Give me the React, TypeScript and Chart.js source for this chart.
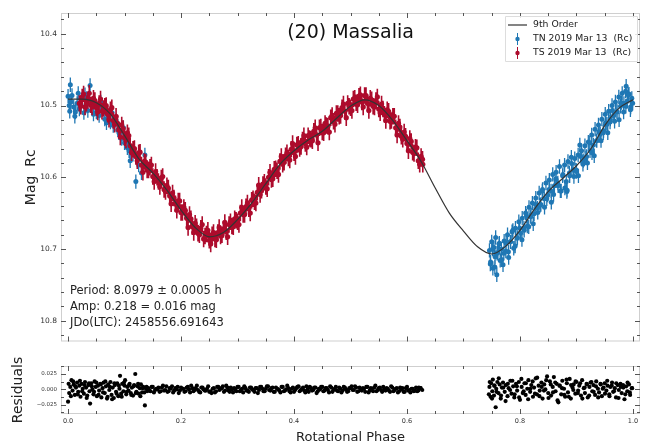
import React, { useEffect, useRef } from "react";
import { Chart, registerables } from "chart.js";
Chart.register(...registerables);

const FONT = "'DejaVu Sans', 'Liberation Sans', sans-serif";

// 9th order fit curve
const fitPhase = [0, 0.025, 0.05, 0.075, 0.1, 0.125, 0.15, 0.175, 0.2, 0.225, 0.25, 0.275, 0.3, 0.325, 0.35, 0.375, 0.4, 0.425, 0.45, 0.475, 0.5, 0.525, 0.55, 0.575, 0.6, 0.625, 0.65, 0.675, 0.7, 0.725, 0.75, 0.775, 0.8, 0.825, 0.85, 0.875, 0.9, 0.925, 0.95, 0.975, 1.0];
const fitMag = [10.491, 10.491, 10.496, 10.512, 10.542, 10.574, 10.594, 10.618, 10.646, 10.670, 10.683, 10.677, 10.659, 10.636, 10.609, 10.582, 10.563, 10.548, 10.536, 10.518, 10.501, 10.492, 10.500, 10.521, 10.549, 10.578, 10.615, 10.650, 10.675, 10.697, 10.707, 10.696, 10.674, 10.645, 10.620, 10.602, 10.584, 10.561, 10.528, 10.504, 10.492];

// TS 2019 Mar 13 (Rc)
const tsPhase = [0.020, 0.025, 0.030, 0.035, 0.040, 0.045, 0.050, 0.055, 0.060, 0.065, 0.070, 0.075, 0.080, 0.085, 0.090, 0.095, 0.100, 0.105, 0.110, 0.115, 0.120, 0.125, 0.130, 0.135, 0.140, 0.145, 0.150, 0.155, 0.160, 0.165, 0.170, 0.175, 0.180, 0.185, 0.190, 0.195, 0.200, 0.205, 0.210, 0.215, 0.220, 0.225, 0.230, 0.235, 0.240, 0.245, 0.250, 0.255, 0.260, 0.265, 0.270, 0.275, 0.280, 0.285, 0.290, 0.295, 0.300, 0.305, 0.310, 0.315, 0.320, 0.325, 0.330, 0.335, 0.340, 0.345, 0.350, 0.355, 0.360, 0.365, 0.370, 0.375, 0.380, 0.385, 0.390, 0.395, 0.400, 0.405, 0.410, 0.415, 0.420, 0.425, 0.430, 0.435, 0.440, 0.445, 0.450, 0.455, 0.460, 0.465, 0.470, 0.475, 0.480, 0.485, 0.490, 0.495, 0.500, 0.505, 0.510, 0.515, 0.520, 0.525, 0.530, 0.535, 0.540, 0.545, 0.550, 0.555, 0.560, 0.565, 0.570, 0.575, 0.580, 0.585, 0.590, 0.595, 0.600, 0.605, 0.610, 0.615, 0.620, 0.625, 0.628,
  0.0225, 0.0275, 0.0325, 0.0375, 0.0425, 0.0475, 0.0525, 0.0575, 0.0625, 0.0675, 0.0725, 0.0775, 0.0825, 0.0875, 0.0925, 0.0975, 0.1025, 0.1075, 0.1125, 0.1175, 0.1225, 0.1275, 0.1325, 0.1375, 0.1425, 0.1475, 0.1525, 0.1575, 0.1625, 0.1675, 0.1725, 0.1775, 0.1825, 0.1875, 0.1925, 0.1975, 0.2025, 0.2075, 0.2125, 0.2175, 0.2225, 0.2275, 0.2325, 0.2375, 0.2425, 0.2475, 0.2525, 0.2575, 0.2625, 0.2675, 0.2725, 0.2775, 0.2825, 0.2875, 0.2925, 0.2975, 0.3025, 0.3075, 0.3125, 0.3175, 0.3225, 0.3275, 0.3325, 0.3375, 0.3425, 0.3475, 0.3525, 0.3575, 0.3625, 0.3675, 0.3725, 0.3775, 0.3825, 0.3875, 0.3925, 0.3975, 0.4025, 0.4075, 0.4125, 0.4175, 0.4225, 0.4275, 0.4325, 0.4375, 0.4425, 0.4475, 0.4525, 0.4575, 0.4625, 0.4675, 0.4725, 0.4775, 0.4825, 0.4875, 0.4925, 0.4975, 0.5025, 0.5075, 0.5125, 0.5175, 0.5225, 0.5275, 0.5325, 0.5375, 0.5425, 0.5475, 0.5525, 0.5575, 0.5625, 0.5675, 0.5725, 0.5775, 0.5825, 0.5875, 0.5925, 0.5975, 0.6025, 0.6075, 0.6125, 0.6175, 0.6225, 0.6275];
const tsMag = [10.497, 10.488, 10.502, 10.493, 10.499, 10.490, 10.503, 10.497, 10.508, 10.501, 10.512, 10.506, 10.521, 10.515, 10.534, 10.527, 10.545, 10.538, 10.556, 10.561, 10.571, 10.566, 10.583, 10.578, 10.590, 10.586, 10.599, 10.592, 10.606, 10.601, 10.617, 10.612, 10.626, 10.622, 10.637, 10.633, 10.649, 10.642, 10.657, 10.652, 10.669, 10.664, 10.678, 10.671, 10.686, 10.679, 10.688, 10.680, 10.686, 10.677, 10.682, 10.673, 10.676, 10.666, 10.668, 10.658, 10.662, 10.650, 10.652, 10.641, 10.644, 10.632, 10.634, 10.621, 10.624, 10.610, 10.613, 10.600, 10.603, 10.589, 10.591, 10.578, 10.582, 10.570, 10.573, 10.561, 10.566, 10.555, 10.560, 10.548, 10.553, 10.542, 10.547, 10.536, 10.541, 10.531, 10.537, 10.525, 10.529, 10.517, 10.522, 10.511, 10.515, 10.503, 10.508, 10.497, 10.503, 10.491, 10.496, 10.487, 10.495, 10.486, 10.497, 10.490, 10.501, 10.493, 10.505, 10.498, 10.512, 10.506, 10.522, 10.515, 10.531, 10.525, 10.543, 10.537, 10.553, 10.546, 10.565, 10.558, 10.577, 10.571, 10.582,
  10.501, 10.484, 10.497, 10.483, 10.502, 10.493, 10.509, 10.491, 10.504, 10.500, 10.519, 10.503, 10.526, 10.525, 10.544, 10.532, 10.548, 10.542, 10.566, 10.560, 10.577, 10.565, 10.593, 10.579, 10.590, 10.583, 10.606, 10.600, 10.613, 10.599, 10.620, 10.615, 10.637, 10.629, 10.646, 10.633, 10.649, 10.646, 10.670, 10.658, 10.677, 10.669, 10.680, 10.666, 10.682, 10.674, 10.693, 10.677, 10.687, 10.670, 10.680, 10.663, 10.683, 10.662, 10.669, 10.660, 10.666, 10.642, 10.652, 10.636, 10.650, 10.630, 10.636, 10.611, 10.618, 10.607, 10.616, 10.593, 10.602, 10.588, 10.596, 10.571, 10.579, 10.566, 10.576, 10.553, 10.571, 10.554, 10.557, 10.542, 10.558, 10.546, 10.549, 10.531, 10.552, 10.530, 10.538, 10.528, 10.537, 10.514, 10.526, 10.511, 10.514, 10.498, 10.517, 10.501, 10.507, 10.490, 10.499, 10.485, 10.502, 10.486, 10.507, 10.492, 10.502, 10.488, 10.510, 10.505, 10.521, 10.508, 10.521, 10.515, 10.541, 10.530, 10.547, 10.543, 10.563, 10.550, 10.567, 10.559, 10.582, 10.575];

// TN 2019 Mar 13 (Rc)
const tnPhase = [0.000, 0.003, 0.004, 0.005, 0.010, 0.013, 0.016, 0.020, 0.025, 0.030, 0.035, 0.039, 0.040, 0.050, 0.055, 0.060, 0.065, 0.070, 0.075, 0.080, 0.085, 0.090, 0.095, 0.100, 0.105, 0.110, 0.115, 0.120, 0.130, 0.136,
  0.002, 0.007, 0.012, 0.018, 0.023, 0.028, 0.033, 0.045, 0.058, 0.068, 0.078, 0.088, 0.098, 0.108, 0.125,
  0.746, 0.748, 0.750, 0.752, 0.754, 0.756, 0.757, 0.759, 0.761, 0.763, 0.765, 0.767, 0.770, 0.772, 0.775, 0.778, 0.780, 0.783, 0.786, 0.789, 0.792, 0.795, 0.798, 0.801, 0.804, 0.807, 0.810, 0.813, 0.816, 0.819, 0.822, 0.825, 0.828, 0.831, 0.834, 0.837, 0.840, 0.843, 0.846, 0.849, 0.852, 0.855, 0.858, 0.861, 0.864, 0.867, 0.870, 0.873, 0.876, 0.879, 0.882, 0.883, 0.885, 0.888, 0.891, 0.894, 0.897, 0.900, 0.903, 0.906, 0.909, 0.912, 0.915, 0.918, 0.921, 0.924, 0.927, 0.930, 0.933, 0.936, 0.939, 0.942, 0.945, 0.948, 0.951, 0.954, 0.957, 0.960, 0.963, 0.966, 0.969, 0.972, 0.975, 0.978, 0.981, 0.984, 0.987, 0.988, 0.990, 0.993, 0.996, 0.998,
  0.7475, 0.7515, 0.7555, 0.7595, 0.7635, 0.7675, 0.7715, 0.7755, 0.7795, 0.7835, 0.7875, 0.7915, 0.7955, 0.7995, 0.8035, 0.8075, 0.8115, 0.8155, 0.8195, 0.8235, 0.8275, 0.8315, 0.8355, 0.8395, 0.8435, 0.8475, 0.8515, 0.8555, 0.8595, 0.8635, 0.8675, 0.8715, 0.8755, 0.8795, 0.8835, 0.8875, 0.8915, 0.8955, 0.8995, 0.9035, 0.9075, 0.9115, 0.9155, 0.9195, 0.9235, 0.9275, 0.9315, 0.9355, 0.9395, 0.9435, 0.9475, 0.9515, 0.9555, 0.9595, 0.9635, 0.9675, 0.9715, 0.9755, 0.9795, 0.9835, 0.9875, 0.9915, 0.9955, 0.9995];
const tnMag = [10.487, 10.508, 10.471, 10.495, 10.502, 10.509, 10.497, 10.505, 10.492, 10.485, 10.507, 10.472, 10.498, 10.509, 10.514, 10.503, 10.519, 10.512, 10.523, 10.528, 10.521, 10.538, 10.546, 10.552, 10.559, 10.577, 10.568, 10.606, 10.594, 10.569,
  10.500, 10.486, 10.515, 10.483, 10.499, 10.510, 10.490, 10.512, 10.495, 10.524, 10.510, 10.534, 10.531, 10.563, 10.583,
  10.702, 10.718, 10.690, 10.727, 10.698, 10.711, 10.684, 10.736, 10.705, 10.693, 10.716, 10.700, 10.722, 10.689, 10.703, 10.680, 10.712, 10.690, 10.676, 10.699, 10.671, 10.685, 10.662, 10.678, 10.657, 10.671, 10.650, 10.668, 10.642, 10.655, 10.636, 10.651, 10.629, 10.643, 10.622, 10.638, 10.617, 10.630, 10.608, 10.625, 10.604, 10.619, 10.596, 10.612, 10.593, 10.608, 10.585, 10.619, 10.596, 10.583, 10.606, 10.620, 10.578, 10.598, 10.572, 10.590, 10.574, 10.592, 10.569, 10.555, 10.563, 10.577, 10.556, 10.571, 10.551, 10.563, 10.541, 10.555, 10.533, 10.549, 10.527, 10.540, 10.519, 10.535, 10.512, 10.526, 10.508, 10.519, 10.500, 10.514, 10.495, 10.509, 10.488, 10.501, 10.483, 10.497, 10.480, 10.473, 10.494, 10.484, 10.502, 10.490,
  10.721, 10.700, 10.725, 10.706, 10.692, 10.715, 10.706, 10.692, 10.704, 10.690, 10.674, 10.696, 10.684, 10.671, 10.687, 10.674, 10.654, 10.669, 10.653, 10.665, 10.638, 10.649, 10.639, 10.619, 10.642, 10.630, 10.617, 10.635, 10.624, 10.602, 10.612, 10.619, 10.598, 10.615, 10.618, 10.594, 10.581, 10.599, 10.590, 10.598, 10.571, 10.582, 10.573, 10.580, 10.552, 10.566, 10.570, 10.549, 10.537, 10.549, 10.538, 10.524, 10.538, 10.523, 10.507, 10.522, 10.508, 10.520, 10.496, 10.509, 10.501, 10.485, 10.506, 10.497];

const tsErr = 0.0115;
const tnErr = 0.01;

// Residuals
const resPhase = [0.000, 0.002, 0.004, 0.006, 0.008, 0.010, 0.012, 0.014, 0.016, 0.018, 0.020, 0.022, 0.024, 0.026, 0.028, 0.030, 0.032, 0.034, 0.036, 0.038, 0.039, 0.041, 0.043, 0.045, 0.047, 0.049, 0.051, 0.053, 0.055, 0.057, 0.059, 0.061, 0.063, 0.065, 0.067, 0.069, 0.071, 0.073, 0.075, 0.077, 0.079, 0.081, 0.083, 0.085, 0.087, 0.089, 0.091, 0.092, 0.094, 0.096, 0.098, 0.100, 0.101, 0.103, 0.105, 0.107, 0.109, 0.111, 0.113, 0.115, 0.117, 0.119, 0.121, 0.123, 0.125, 0.127, 0.129, 0.131, 0.133, 0.136, 0.138, 0.140,
  0.001, 0.005, 0.009, 0.013, 0.017, 0.021, 0.025, 0.029, 0.033, 0.037, 0.042, 0.046, 0.050, 0.054, 0.058, 0.062, 0.066, 0.070, 0.074, 0.078, 0.082, 0.086, 0.090, 0.095, 0.099, 0.104, 0.108, 0.112, 0.116, 0.120, 0.124, 0.128, 0.132, 0.135, 0.139,
  0.142, 0.146, 0.150, 0.154, 0.158, 0.162, 0.166, 0.170, 0.174, 0.178, 0.182, 0.186, 0.190, 0.194, 0.198, 0.202, 0.206, 0.210, 0.214, 0.218, 0.222, 0.226, 0.230, 0.234, 0.238, 0.242, 0.246, 0.250, 0.254, 0.258, 0.262, 0.266, 0.270, 0.274, 0.278, 0.282, 0.286, 0.290, 0.294, 0.298, 0.302, 0.306, 0.310, 0.314, 0.318, 0.322, 0.326, 0.330, 0.334, 0.338, 0.342, 0.346, 0.350, 0.354, 0.358, 0.362, 0.366, 0.370, 0.374, 0.378, 0.382, 0.386, 0.390, 0.394, 0.398, 0.402, 0.406, 0.410, 0.414, 0.418, 0.422, 0.426, 0.430, 0.434, 0.438, 0.442, 0.446, 0.450, 0.454, 0.458, 0.462, 0.466, 0.470, 0.474, 0.478, 0.482, 0.486, 0.490, 0.494, 0.498, 0.502, 0.506, 0.510, 0.514, 0.518, 0.522, 0.526, 0.530, 0.534, 0.538, 0.542, 0.546, 0.550, 0.554, 0.558, 0.562, 0.566, 0.570, 0.574, 0.578, 0.582, 0.586, 0.590, 0.594, 0.598, 0.602, 0.606, 0.610, 0.614, 0.618, 0.621, 0.624, 0.627,
  0.144, 0.148, 0.152, 0.156, 0.160, 0.164, 0.168, 0.172, 0.176, 0.180, 0.184, 0.188, 0.192, 0.196, 0.200, 0.204, 0.208, 0.212, 0.216, 0.220, 0.224, 0.228, 0.232, 0.236, 0.240, 0.244, 0.248, 0.252, 0.256, 0.260, 0.264, 0.268, 0.272, 0.276, 0.280, 0.284, 0.288, 0.292, 0.296, 0.300, 0.304, 0.308, 0.312, 0.316, 0.320, 0.324, 0.328, 0.332, 0.336, 0.340, 0.344, 0.348, 0.352, 0.356, 0.360, 0.364, 0.368, 0.372, 0.376, 0.380, 0.384, 0.388, 0.392, 0.396, 0.400, 0.404, 0.408, 0.412, 0.416, 0.420, 0.424, 0.428, 0.432, 0.436, 0.440, 0.444, 0.448, 0.452, 0.456, 0.460, 0.464, 0.468, 0.472, 0.476, 0.480, 0.484, 0.488, 0.492, 0.496, 0.500, 0.504, 0.508, 0.512, 0.516, 0.520, 0.524, 0.528, 0.532, 0.536, 0.540, 0.544, 0.548, 0.552, 0.556, 0.560, 0.564, 0.568, 0.572, 0.576, 0.580, 0.584, 0.588, 0.592, 0.596, 0.600, 0.604, 0.608, 0.612, 0.616, 0.620, 0.624,
  0.745, 0.746, 0.748, 0.749, 0.751, 0.752, 0.754, 0.755, 0.757, 0.758, 0.760, 0.762, 0.764, 0.766, 0.768, 0.770, 0.773, 0.775, 0.778, 0.780, 0.783, 0.785, 0.788, 0.790, 0.793, 0.795, 0.798, 0.800, 0.803, 0.805, 0.808, 0.810, 0.813, 0.815, 0.818, 0.820, 0.823, 0.825, 0.828, 0.830, 0.833, 0.835, 0.838, 0.840, 0.843, 0.845, 0.848, 0.850, 0.853, 0.855, 0.858, 0.860, 0.863, 0.865, 0.868, 0.870, 0.873, 0.875, 0.878, 0.880, 0.883, 0.885, 0.888, 0.890, 0.893, 0.895, 0.898, 0.900, 0.903, 0.905, 0.908, 0.910, 0.913, 0.915, 0.918, 0.920, 0.923, 0.925, 0.928, 0.930, 0.933, 0.935, 0.938, 0.940, 0.943, 0.945, 0.948, 0.950, 0.953, 0.955, 0.958, 0.960, 0.963, 0.965, 0.968, 0.970, 0.973, 0.975, 0.978, 0.980, 0.983, 0.985, 0.988, 0.990, 0.993, 0.995, 0.998,
  0.7465, 0.7505, 0.7545, 0.7585, 0.7625, 0.7665, 0.7705, 0.7745, 0.7785, 0.7825, 0.7865, 0.7905, 0.7945, 0.7985, 0.8025, 0.8065, 0.8105, 0.8145, 0.8185, 0.8225, 0.8265, 0.8305, 0.8345, 0.8385, 0.8425, 0.8465, 0.8505, 0.8545, 0.8585, 0.8625, 0.8665, 0.8705, 0.8745, 0.8785, 0.8825, 0.8865, 0.8905, 0.8945, 0.8985, 0.9025, 0.9065, 0.9105, 0.9145, 0.9185, 0.9225, 0.9265, 0.9305, 0.9345, 0.9385, 0.9425, 0.9465, 0.9505, 0.9545, 0.9585, 0.9625, 0.9665, 0.9705, 0.9745, 0.9785, 0.9825, 0.9865, 0.9905, 0.9945, 0.9985];
const resValue = [-0.020, -0.006, 0.004, 0.015, -0.002, 0.008, -0.009, 0.003, 0.011, -0.004, 0.006, -0.012, 0.009, 0.001, -0.007, 0.012, 0.003, -0.010, 0.007, -0.003, -0.023, 0.010, 0.000, -0.008, 0.013, 0.004, -0.011, 0.006, -0.002, 0.009, -0.013, 0.002, 0.011, -0.006, 0.005, -0.015, 0.008, -0.001, 0.012, -0.009, 0.003, -0.014, 0.007, -0.004, 0.010, -0.011, 0.001, 0.022, -0.007, 0.009, -0.003, 0.006, 0.015, -0.008, 0.004, -0.002, 0.009, -0.006, 0.003, -0.010, 0.007, 0.025, -0.004, 0.005, -0.007, 0.002, 0.008, -0.005, 0.004, -0.026, 0.001, -0.003,
  0.009, -0.011, 0.013, 0.005, -0.008, 0.014, -0.003, 0.007, -0.014, 0.010, 0.005, -0.004, 0.011, -0.009, 0.008, -0.005, 0.013, -0.012, 0.004, -0.016, 0.010, -0.007, 0.006, -0.012, 0.011, -0.004, 0.007, -0.009, 0.005, -0.006, 0.009, -0.011, 0.002, -0.005, 0.004,
  0.002, -0.003, 0.004, -0.001, 0.000, -0.004, 0.003, -0.002, 0.005, -0.003, 0.001, -0.005, 0.002, 0.004, -0.002, 0.001, -0.004, 0.003, 0.000, 0.006, -0.003, 0.002, -0.001, -0.005, 0.003, -0.002, 0.001, -0.004, -0.006, 0.002, -0.003, 0.004, 0.001, 0.005, -0.002, 0.003, -0.004, 0.000, 0.002, -0.003, 0.004, -0.001, -0.005, 0.002, -0.002, 0.003, 0.000, -0.004, 0.002, -0.001, 0.004, -0.003, 0.001, 0.005, -0.002, 0.003, -0.004, 0.001, -0.002, 0.004, -0.003, 0.000, 0.002, -0.005, 0.003, -0.001, 0.004, -0.003, 0.001, -0.002, 0.005, -0.004, 0.002, -0.001, 0.003, -0.003, 0.000, 0.004, -0.002, 0.002, -0.005, 0.003, -0.001, 0.004, -0.003, 0.001, -0.002, 0.003, -0.004, 0.002, 0.005, -0.001, 0.003, -0.003, 0.000, 0.002, -0.004, 0.004, -0.002, 0.001, 0.003, -0.003, 0.002, -0.001, 0.004, -0.002, 0.001, -0.004, 0.003, -0.001, 0.002, -0.003, 0.000, -0.004, 0.002, -0.002, -0.005, 0.001, -0.002, -0.003, 0.003, 0.002, -0.001,
  -0.002, 0.004, -0.005, 0.001, 0.003, -0.003, 0.006, -0.001, -0.004, 0.002, 0.005, -0.002, 0.000, -0.006, 0.003, 0.001, -0.003, 0.004, -0.005, 0.002, -0.001, 0.006, -0.004, 0.003, 0.000, -0.002, 0.005, -0.003, 0.001, -0.005, 0.004, -0.001, 0.002, -0.004, 0.006, -0.002, 0.003, -0.005, 0.000, 0.004, -0.003, 0.001, 0.005, -0.002, -0.004, 0.003, -0.001, 0.002, -0.006, 0.004, 0.001, -0.003, 0.005, -0.001, 0.002, -0.004, 0.003, 0.000, -0.005, 0.004, -0.002, 0.006, -0.003, 0.001, -0.004, 0.002, 0.005, -0.001, 0.003, -0.005, 0.000, 0.004, -0.002, 0.003, -0.006, 0.001, 0.004, -0.003, 0.002, -0.001, 0.005, -0.004, 0.001, -0.002, 0.003, -0.005, 0.004, 0.000, -0.003, 0.002, -0.001, 0.005, -0.004, 0.003, -0.002, 0.001, 0.004, -0.005, 0.002, -0.003, 0.006, -0.001, 0.003, -0.004, 0.000, 0.002, -0.002, 0.005, -0.003, 0.001, -0.005, 0.003, 0.002, -0.004, 0.004, -0.001, 0.001, -0.003, 0.003, -0.002, 0.002,
  -0.008, 0.004, -0.012, 0.010, -0.003, 0.016, -0.010, 0.006, -0.029, 0.001, 0.012, -0.006, 0.008, -0.015, 0.003, 0.011, -0.004, 0.007, -0.011, 0.002, 0.014, -0.007, 0.005, -0.013, 0.009, -0.002, 0.012, -0.017, 0.004, -0.006, 0.010, -0.009, 0.001, 0.015, -0.004, 0.007, -0.012, 0.003, 0.018, -0.008, 0.006, -0.002, 0.011, -0.015, 0.008, 0.000, 0.021, -0.006, 0.013, -0.010, 0.004, 0.020, -0.003, 0.009, -0.021, 0.006, -0.008, 0.014, 0.001, -0.012, 0.010, -0.005, 0.017, -0.015, 0.003, 0.008, -0.007, 0.012, -0.002, 0.006, -0.010, 0.015, 0.002, -0.006, 0.009, -0.013, 0.004, 0.011, -0.003, 0.007, -0.009, 0.013, 0.001, -0.005, 0.008, -0.011, 0.003, 0.010, -0.002, 0.006, -0.008, 0.004, 0.011, -0.004, 0.002, -0.013, 0.007, -0.001, 0.009, -0.006, 0.003, -0.016, 0.005, -0.003, 0.008, -0.009, 0.002,
  0.012, -0.015, 0.006, -0.004, 0.018, -0.010, 0.003, -0.019, 0.009, -0.001, 0.014, -0.008, 0.005, -0.013, 0.017, -0.003, 0.010, -0.016, 0.001, 0.013, -0.007, 0.019, -0.011, 0.004, -0.002, 0.015, -0.014, 0.008, -0.005, 0.011, -0.018, 0.006, 0.002, -0.009, 0.016, -0.012, 0.007, -0.001, 0.013, -0.006, 0.010, -0.015, 0.003, 0.008, -0.010, 0.012, -0.004, 0.005, -0.013, 0.009, 0.001, -0.007, 0.014, -0.011, 0.006, -0.003, 0.010, -0.014, 0.004, 0.007, -0.008, 0.011, -0.005, 0.002];

// Ticks
const phaseMajor = [0, 0.2, 0.4, 0.6, 0.8, 1.0];
const phaseLabels = ["0.0", "0.2", "0.4", "0.6", "0.8", "1.0"];
const phaseMinor = [0.05, 0.1, 0.15, 0.25, 0.3, 0.35, 0.45, 0.5, 0.55, 0.65, 0.7, 0.75, 0.85, 0.9, 0.95];
const magMajor = [10.4, 10.5, 10.6, 10.7, 10.8];
const magLabels = ["10.4", "10.5", "10.6", "10.7", "10.8"];
const magMinor = [10.38, 10.42, 10.44, 10.46, 10.48, 10.52, 10.54, 10.56, 10.58, 10.62, 10.64, 10.66, 10.68, 10.72, 10.74, 10.76, 10.78, 10.82];
const resMajor = [-0.025, 0, 0.025];
const resLabels = ["\u22120.025", "0.000", "0.025"];
const resMinor = [-0.0375, -0.0125, 0.0125, 0.0375];

const BLUE = "#1f77b4";
const RED = "#ad0b2c";

const pts = (ph: number[], v: number[]) => ph.map((p, i) => ({ x: p, y: v[i] }));
const errBars = (ph: number[], v: number[], e: number) => {
  const out: any[] = [];
  ph.forEach((p, i) => {
    out.push({ x: p, y: v[i] - e }, { x: p, y: v[i] + e }, { x: p, y: null });
  });
  return out;
};

const frameTicks = {
  id: "frameTicks",
  afterDatasetsDraw(chart: any, _args: any, opts: any) {
    const { ctx, chartArea: a, scales } = chart;
    const xs = scales.x;
    const ys = scales.y;
    ctx.save();
    ctx.lineWidth = 1;
    ctx.strokeStyle = "#cfcfcf";
    ctx.strokeRect(a.left + 0.5, a.top + 0.5, a.right - a.left - 1, a.bottom - a.top - 1);
    ctx.strokeStyle = "#555";
    const dx = (vals: number[], len: number) =>
      vals.forEach((v) => {
        const px = Math.round(xs.getPixelForValue(v)) + 0.5;
        ctx.beginPath();
        ctx.moveTo(px, a.top);
        ctx.lineTo(px, a.top + len);
        ctx.moveTo(px, a.bottom);
        ctx.lineTo(px, a.bottom - len);
        ctx.stroke();
      });
    const dy = (vals: number[], len: number) =>
      vals.forEach((v) => {
        const py = Math.round(ys.getPixelForValue(v)) + 0.5;
        ctx.beginPath();
        ctx.moveTo(a.left, py);
        ctx.lineTo(a.left + len, py);
        ctx.moveTo(a.right, py);
        ctx.lineTo(a.right - len, py);
        ctx.stroke();
      });
    dx(opts.xMajor, 5);
    dx(opts.xMinor, 3);
    dy(opts.yMajor, 5);
    dy(opts.yMinor, 3);
    ctx.restore();
  },
};

const annotations = {
  id: "annotations",
  afterDraw(chart: any) {
    const { ctx, chartArea: a } = chart;
    ctx.save();
    ctx.fillStyle = "#111";
    ctx.textBaseline = "middle";
    ctx.textAlign = "center";
    ctx.font = `19px ${FONT}`;
    ctx.fillText("(20) Massalia", (a.left + a.right) / 2, a.top + 20);

    ctx.textAlign = "left";
    ctx.font = `11.5px ${FONT}`;
    ctx.fillStyle = "#222";
    ctx.fillText("Period: 8.0979 \u00b1 0.0005 h", a.left + 9, a.bottom - 50);
    ctx.fillText("Amp: 0.218 = 0.016 mag", a.left + 9, a.bottom - 34);
    ctx.fillText("JDo(LTC): 2458556.691643", a.left + 9, a.bottom - 18);

    // legend
    const lx = a.right - 135;
    const ly = a.top + 3;
    ctx.fillStyle = "rgba(255,255,255,0.85)";
    ctx.strokeStyle = "#dddddd";
    ctx.lineWidth = 1;
    ctx.beginPath();
    ctx.rect(lx + 0.5, ly + 0.5, 132, 45);
    ctx.fill();
    ctx.stroke();
    ctx.strokeStyle = "#333";
    ctx.lineWidth = 1.2;
    ctx.beginPath();
    ctx.moveTo(lx + 3, ly + 9);
    ctx.lineTo(lx + 22, ly + 9);
    ctx.stroke();
    const marker = (y: number, col: string) => {
      ctx.strokeStyle = col;
      ctx.fillStyle = col;
      ctx.lineWidth = 1;
      ctx.beginPath();
      ctx.moveTo(lx + 12.5, y - 6);
      ctx.lineTo(lx + 12.5, y + 6);
      ctx.stroke();
      ctx.beginPath();
      ctx.arc(lx + 12.5, y, 2.2, 0, Math.PI * 2);
      ctx.fill();
    };
    marker(ly + 23, BLUE);
    marker(ly + 37, RED);
    ctx.fillStyle = "#222";
    ctx.font = `9.3px ${FONT}`;
    ctx.fillText("9th Order", lx + 28, ly + 9);
    ctx.fillText("TN 2019 Mar 13  (Rc)", lx + 28, ly + 23);
    ctx.fillText("TS 2019 Mar 13  (Rc)", lx + 28, ly + 37);
    ctx.restore();
  },
};

export default function App() {
  const mainRef = useRef<HTMLCanvasElement | null>(null);
  const resRef = useRef<HTMLCanvasElement | null>(null);

  useEffect(() => {
    const xCommon = { type: "linear", min: -0.0125, max: 1.0125 };
    const main = new Chart(mainRef.current as HTMLCanvasElement, {
      type: "scatter",
      data: {
        datasets: [
          {
            label: "9th Order",
            data: pts(fitPhase, fitMag),
            showLine: true,
            borderColor: "#333",
            borderWidth: 1.2,
            pointRadius: 0,
            cubicInterpolationMode: "monotone",
          } as any,
          {
            label: "TS 2019 Mar 13  (Rc)",
            data: pts(tsPhase, tsMag),
            pointRadius: 2.6,
            pointBackgroundColor: RED,
            pointBorderWidth: 0,
          },
          {
            label: "TS err",
            data: errBars(tsPhase, tsMag, tsErr),
            showLine: true,
            spanGaps: false,
            borderColor: RED,
            borderWidth: 1.6,
            pointRadius: 0,
          },
          {
            label: "TN 2019 Mar 13  (Rc)",
            data: pts(tnPhase, tnMag),
            pointRadius: 2.5,
            pointBackgroundColor: BLUE,
            pointBorderWidth: 0,
          },
          {
            label: "TN err",
            data: errBars(tnPhase, tnMag, tnErr),
            showLine: true,
            spanGaps: false,
            borderColor: BLUE,
            borderWidth: 1.3,
            pointRadius: 0,
          },
        ],
      },
      options: {
        animation: false,
        responsive: false,
        events: [],
        layout: { padding: { left: 0, top: 13, right: 5, bottom: 5 } },
        scales: {
          x: { ...xCommon, display: false } as any,
          y: {
            type: "linear",
            reverse: true,
            min: 10.371,
            max: 10.829,
            afterBuildTicks: (s: any) => {
              s.ticks = magMajor.map((v) => ({ value: v }));
            },
            afterFit: (s: any) => {
              s.width = 61;
            },
            grid: { display: false, drawTicks: false },
            border: { display: false },
            ticks: {
              autoSkip: false,
              padding: 4,
              color: "#333",
              font: { family: FONT, size: 7.5 },
              callback: (_v: any, i: number) => magLabels[i],
            },
            title: {
              display: true,
              text: "Mag  Rc",
              color: "#222",
              font: { family: FONT, size: 14 },
              padding: { top: 22.6, bottom: 0 },
            },
          },
        },
        plugins: {
          legend: { display: false },
          tooltip: { enabled: false },
          frameTicks: { xMajor: phaseMajor, xMinor: phaseMinor, yMajor: magMajor, yMinor: magMinor },
        } as any,
      },
      plugins: [frameTicks, annotations],
    } as any);

    const res = new Chart(resRef.current as HTMLCanvasElement, {
      type: "scatter",
      data: {
        datasets: [
          {
            label: "Residuals",
            data: pts(resPhase, resValue),
            pointRadius: 2.1,
            pointBackgroundColor: "#000",
            pointBorderWidth: 0,
          },
        ],
      },
      options: {
        animation: false,
        responsive: false,
        events: [],
        layout: { padding: { left: 0, top: 16, right: 5, bottom: 0 } },
        scales: {
          x: {
            ...xCommon,
            afterBuildTicks: (s: any) => {
              s.ticks = phaseMajor.map((v) => ({ value: v }));
            },
            afterFit: (s: any) => {
              s.height = 30;
            },
            grid: { display: false, drawTicks: false },
            border: { display: false },
            ticks: {
              autoSkip: false,
              maxRotation: 0,
              padding: 3,
              color: "#333",
              font: { family: FONT, size: 6.5 },
              callback: (_v: any, i: number) => phaseLabels[i],
            },
            title: {
              display: true,
              text: "Rotational Phase",
              color: "#222",
              font: { family: FONT, size: 13, lineHeight: 1 },
              padding: { top: 0, bottom: 0 },
            },
          } as any,
          y: {
            type: "linear",
            min: -0.04,
            max: 0.038,
            afterBuildTicks: (s: any) => {
              s.ticks = resMajor.map((v) => ({ value: v }));
            },
            afterFit: (s: any) => {
              s.width = 61;
            },
            grid: { display: false, drawTicks: false },
            border: { display: false },
            ticks: {
              autoSkip: false,
              padding: 4,
              color: "#333",
              font: { family: FONT, size: 5.5 },
              callback: (_v: any, i: number) => resLabels[i],
            },
            title: {
              display: true,
              text: "Residuals",
              color: "#222",
              font: { family: FONT, size: 14 },
              padding: { top: 9.6, bottom: 0 },
            },
          },
        },
        plugins: {
          legend: { display: false },
          tooltip: { enabled: false },
          frameTicks: { xMajor: phaseMajor, xMinor: phaseMinor, yMajor: resMajor, yMinor: resMinor },
        } as any,
      },
      plugins: [frameTicks],
    } as any);

    return () => {
      main.destroy();
      res.destroy();
    };
  }, []);

  return (
    <div style={{ position: "fixed", left: 0, top: 0, width: 645, height: 444, background: "#fff" }}>
      <canvas ref={mainRef} width={645} height={350} style={{ position: "absolute", left: 0, top: 0 }} />
      <canvas ref={resRef} width={645} height={94} style={{ position: "absolute", left: 0, top: 350 }} />
    </div>
  );
}
